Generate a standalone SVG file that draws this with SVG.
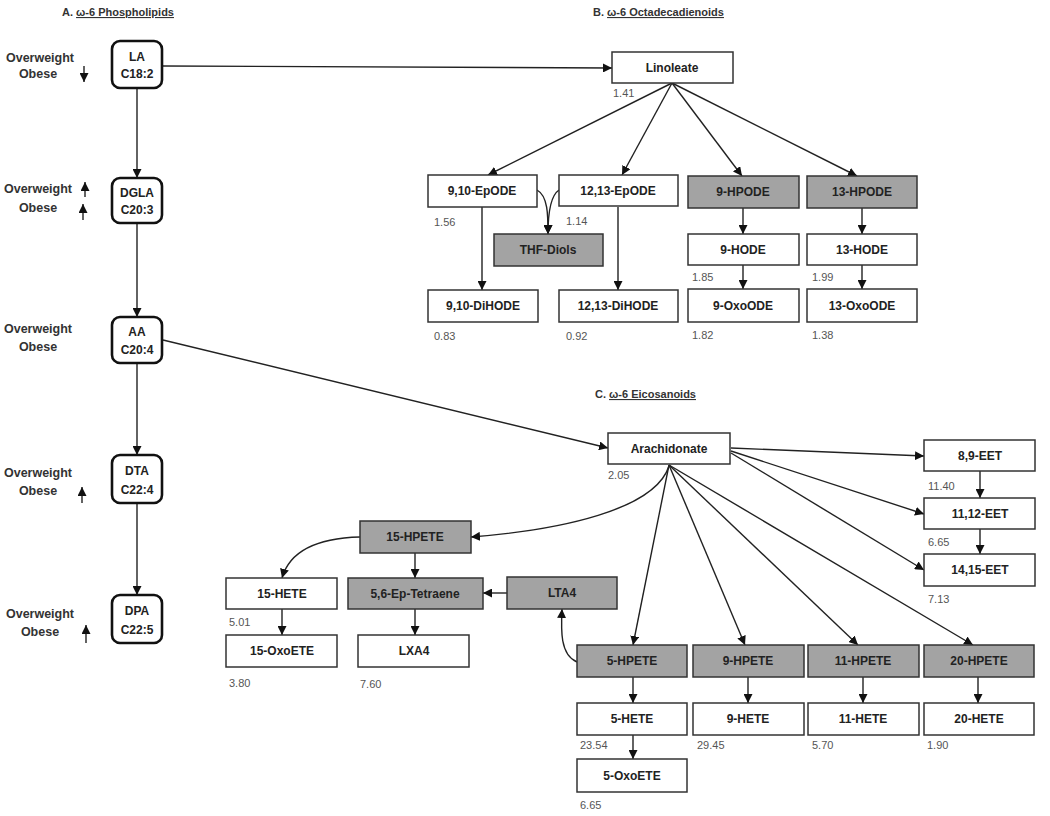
<svg xmlns="http://www.w3.org/2000/svg" width="1050" height="816" viewBox="0 0 1050 816">
<style>
.bg{fill:#fff}
.pl rect{fill:#fff;stroke:#111;stroke-width:2.6}
.n rect{fill:#fff;stroke:#333;stroke-width:1.5}
.g rect{fill:#a3a3a3;stroke:#333;stroke-width:1.5}
text{font-family:"Liberation Sans",Arial,sans-serif}
.t{font-size:12px;font-weight:bold;fill:#222;text-anchor:middle}
.lb{font-size:12.5px;font-weight:bold;fill:#333;text-anchor:middle}
.v{font-size:11px;fill:#555}
.h{font-size:11px;font-weight:bold;fill:#333}
.c path,.c line,.ar{fill:none;stroke:#222;stroke-width:1.4}
</style>
<defs>
<marker id="a" viewBox="0 0 10 10" refX="10" refY="5" markerWidth="9" markerHeight="9" markerUnits="userSpaceOnUse" orient="auto">
<path d="M0,0 L10,5 L0,10 z" fill="#111"/>
</marker>
</defs>
<rect class="bg" x="0" y="0" width="1050" height="816"/>

<g id="headings">
<text class="h" x="62" y="16">A.  <tspan text-decoration="underline">ω-6 Phospholipids</tspan></text>
<text class="h" x="593" y="16">B.  <tspan text-decoration="underline">ω-6 Octadecadienoids</tspan></text>
<text class="h" x="595" y="398">C.  <tspan text-decoration="underline">ω-6 Eicosanoids</tspan></text>
</g>

<g class="c" id="connectors">
<line x1="137" y1="88" x2="137" y2="178" marker-end="url(#a)"/>
<line x1="137" y1="223" x2="137" y2="317" marker-end="url(#a)"/>
<line x1="137" y1="363" x2="137" y2="455" marker-end="url(#a)"/>
<line x1="137" y1="503" x2="137" y2="595" marker-end="url(#a)"/>
<line x1="163" y1="66" x2="612" y2="68" marker-end="url(#a)"/>
<line x1="163" y1="340" x2="608" y2="448" marker-end="url(#a)"/>
<line x1="672" y1="83" x2="488" y2="175" marker-end="url(#a)"/>
<line x1="672" y1="83" x2="622" y2="175" marker-end="url(#a)"/>
<line x1="672" y1="83" x2="742" y2="176" marker-end="url(#a)"/>
<line x1="672" y1="83" x2="857" y2="176" marker-end="url(#a)"/>
<line x1="482" y1="207" x2="482" y2="290" marker-end="url(#a)"/>
<line x1="618" y1="207" x2="618" y2="290" marker-end="url(#a)"/>
<path d="M537,190 C548,196 548,215 548,234" marker-end="url(#a)"/>
<path d="M559,190 C550,196 548,215 548,234" marker-end="url(#a)"/>
<line x1="743" y1="208" x2="743" y2="234" marker-end="url(#a)"/>
<line x1="743" y1="265" x2="743" y2="289" marker-end="url(#a)"/>
<line x1="862" y1="208" x2="862" y2="234" marker-end="url(#a)"/>
<line x1="862" y1="265" x2="862" y2="289" marker-end="url(#a)"/>
<line x1="731" y1="448" x2="924" y2="456" marker-end="url(#a)"/>
<line x1="731" y1="451" x2="924" y2="514" marker-end="url(#a)"/>
<line x1="731" y1="453" x2="924" y2="570" marker-end="url(#a)"/>
<line x1="980" y1="471" x2="980" y2="498" marker-end="url(#a)"/>
<line x1="980" y1="529" x2="980" y2="554" marker-end="url(#a)"/>
<line x1="669" y1="465" x2="633" y2="645" marker-end="url(#a)"/>
<line x1="669" y1="465" x2="745" y2="645" marker-end="url(#a)"/>
<line x1="669" y1="465" x2="858" y2="645" marker-end="url(#a)"/>
<line x1="669" y1="465" x2="973" y2="645" marker-end="url(#a)"/>
<path d="M669,466 C655,510 560,530 471,537" marker-end="url(#a)"/>
<path d="M360,537 C320,538 290,550 282,578" marker-end="url(#a)"/>
<line x1="415" y1="553" x2="415" y2="578" marker-end="url(#a)"/>
<line x1="507" y1="593" x2="483" y2="593" marker-end="url(#a)"/>
<line x1="282" y1="609" x2="282" y2="635" marker-end="url(#a)"/>
<line x1="415" y1="609" x2="415" y2="635" marker-end="url(#a)"/>
<path d="M577,662 C560,655 561,630 562,609" marker-end="url(#a)"/>
<line x1="633" y1="677" x2="633" y2="703" marker-end="url(#a)"/>
<line x1="748" y1="677" x2="748" y2="703" marker-end="url(#a)"/>
<line x1="863" y1="677" x2="863" y2="703" marker-end="url(#a)"/>
<line x1="978" y1="677" x2="978" y2="703" marker-end="url(#a)"/>
<line x1="633" y1="735" x2="633" y2="759" marker-end="url(#a)"/>
</g>

<g id="LA" class="pl">
<rect x="112" y="41" width="50" height="47" rx="8"/>
<text class="t" x="137" y="61">LA</text><text class="t" x="137" y="78">C18:2</text>
<text class="lb" x="40" y="62">Overweight</text><text class="lb" x="38" y="78">Obese</text>
<line class="ar" x1="84" y1="66" x2="84" y2="82" marker-end="url(#a)"/>
</g>
<g id="DGLA" class="pl">
<rect x="112" y="178" width="50" height="45" rx="8"/>
<text class="t" x="137" y="197">DGLA</text><text class="t" x="137" y="214">C20:3</text>
<text class="lb" x="38" y="193">Overweight</text><text class="lb" x="38" y="212">Obese</text>
<line class="ar" x1="85" y1="197" x2="85" y2="182" marker-end="url(#a)"/>
<line class="ar" x1="83" y1="220" x2="83" y2="204" marker-end="url(#a)"/>
</g>
<g id="AA" class="pl">
<rect x="112" y="317" width="50" height="46" rx="8"/>
<text class="t" x="137" y="336">AA</text><text class="t" x="137" y="354">C20:4</text>
<text class="lb" x="38" y="333">Overweight</text><text class="lb" x="38" y="351">Obese</text>
</g>
<g id="DTA" class="pl">
<rect x="112" y="455" width="50" height="48" rx="8"/>
<text class="t" x="137" y="475">DTA</text><text class="t" x="137" y="494">C22:4</text>
<text class="lb" x="38" y="477">Overweight</text><text class="lb" x="38" y="495">Obese</text>
<line class="ar" x1="82" y1="503" x2="82" y2="487" marker-end="url(#a)"/>
</g>
<g id="DPA" class="pl">
<rect x="112" y="595" width="50" height="48" rx="8"/>
<text class="t" x="137" y="615">DPA</text><text class="t" x="137" y="634">C22:5</text>
<text class="lb" x="40" y="618">Overweight</text><text class="lb" x="40" y="636">Obese</text>
<line class="ar" x1="86" y1="643" x2="86" y2="625" marker-end="url(#a)"/>
</g>

<g id="Linoleate" class="n"><rect x="612" y="52" width="121" height="31"/><text class="t" x="672" y="72">Linoleate</text><text class="v" x="613" y="97">1.41</text></g>
<g id="EpODE910" class="n"><rect x="428" y="175" width="109" height="32"/><text class="t" x="482" y="195">9,10-EpODE</text><text class="v" x="434" y="226">1.56</text></g>
<g id="EpODE1213" class="n"><rect x="559" y="175" width="119" height="31"/><text class="t" x="618" y="195">12,13-EpODE</text><text class="v" x="566" y="225">1.14</text></g>
<g id="THFDiols" class="g"><rect x="494" y="234" width="109" height="32"/><text class="t" x="548" y="254">THF-Diols</text></g>
<g id="DiHODE910" class="n"><rect x="428" y="290" width="110" height="32"/><text class="t" x="483" y="310">9,10-DiHODE</text><text class="v" x="434" y="340">0.83</text></g>
<g id="DiHODE1213" class="n"><rect x="559" y="290" width="119" height="32"/><text class="t" x="618" y="310">12,13-DiHODE</text><text class="v" x="566" y="340">0.92</text></g>
<g id="HPODE9" class="g"><rect x="688" y="176" width="111" height="32"/><text class="t" x="743" y="196">9-HPODE</text></g>
<g id="HPODE13" class="g"><rect x="807" y="176" width="110" height="32"/><text class="t" x="862" y="196">13-HPODE</text></g>
<g id="HODE9" class="n"><rect x="688" y="234" width="111" height="31"/><text class="t" x="743" y="254">9-HODE</text><text class="v" x="692" y="281">1.85</text></g>
<g id="HODE13" class="n"><rect x="807" y="234" width="110" height="31"/><text class="t" x="862" y="254">13-HODE</text><text class="v" x="812" y="281">1.99</text></g>
<g id="OxoODE9" class="n"><rect x="688" y="289" width="111" height="33"/><text class="t" x="743" y="310">9-OxoODE</text><text class="v" x="692" y="339">1.82</text></g>
<g id="OxoODE13" class="n"><rect x="807" y="289" width="110" height="33"/><text class="t" x="862" y="310">13-OxoODE</text><text class="v" x="812" y="339">1.38</text></g>

<g id="Arachidonate" class="n"><rect x="608" y="433" width="122" height="31"/><text class="t" x="669" y="453">Arachidonate</text><text class="v" x="608" y="479">2.05</text></g>
<g id="EET89" class="n"><rect x="924" y="440" width="111" height="31"/><text class="t" x="980" y="460">8,9-EET</text><text class="v" x="928" y="490">11.40</text></g>
<g id="EET1112" class="n"><rect x="924" y="498" width="111" height="31"/><text class="t" x="980" y="518">11,12-EET</text><text class="v" x="928" y="546">6.65</text></g>
<g id="EET1415" class="n"><rect x="924" y="554" width="111" height="32"/><text class="t" x="980" y="574">14,15-EET</text><text class="v" x="928" y="603">7.13</text></g>
<g id="HPETE15" class="g"><rect x="360" y="521" width="111" height="32"/><text class="t" x="415" y="541">15-HPETE</text></g>
<g id="HETE15" class="n"><rect x="226" y="578" width="111" height="31"/><text class="t" x="282" y="598">15-HETE</text><text class="v" x="229" y="626">5.01</text></g>
<g id="EpTetraene" class="g"><rect x="348" y="578" width="135" height="31"/><text class="t" x="415" y="598">5,6-Ep-Tetraene</text></g>
<g id="LTA4" class="g"><rect x="507" y="577" width="110" height="32"/><text class="t" x="562" y="597">LTA4</text></g>
<g id="OxoETE15" class="n"><rect x="226" y="635" width="111" height="32"/><text class="t" x="282" y="655">15-OxoETE</text><text class="v" x="229" y="687">3.80</text></g>
<g id="LXA4" class="n"><rect x="358" y="635" width="111" height="32"/><text class="t" x="414" y="655">LXA4</text><text class="v" x="360" y="688">7.60</text></g>
<g id="HPETE5" class="g"><rect x="577" y="645" width="110" height="32"/><text class="t" x="632" y="665">5-HPETE</text></g>
<g id="HPETE9" class="g"><rect x="693" y="645" width="111" height="32"/><text class="t" x="748" y="665">9-HPETE</text></g>
<g id="HPETE11" class="g"><rect x="808" y="645" width="111" height="32"/><text class="t" x="863" y="665">11-HPETE</text></g>
<g id="HPETE20" class="g"><rect x="924" y="645" width="110" height="32"/><text class="t" x="979" y="665">20-HPETE</text></g>
<g id="HETE5" class="n"><rect x="577" y="703" width="110" height="32"/><text class="t" x="632" y="723">5-HETE</text><text class="v" x="580" y="749">23.54</text></g>
<g id="HETE9" class="n"><rect x="693" y="703" width="111" height="32"/><text class="t" x="748" y="723">9-HETE</text><text class="v" x="697" y="749">29.45</text></g>
<g id="HETE11" class="n"><rect x="808" y="703" width="111" height="32"/><text class="t" x="863" y="723">11-HETE</text><text class="v" x="812" y="749">5.70</text></g>
<g id="HETE20" class="n"><rect x="924" y="703" width="110" height="32"/><text class="t" x="979" y="723">20-HETE</text><text class="v" x="927" y="749">1.90</text></g>
<g id="OxoETE5" class="n"><rect x="577" y="759" width="110" height="33"/><text class="t" x="632" y="780">5-OxoETE</text><text class="v" x="580" y="809">6.65</text></g>
</svg>
